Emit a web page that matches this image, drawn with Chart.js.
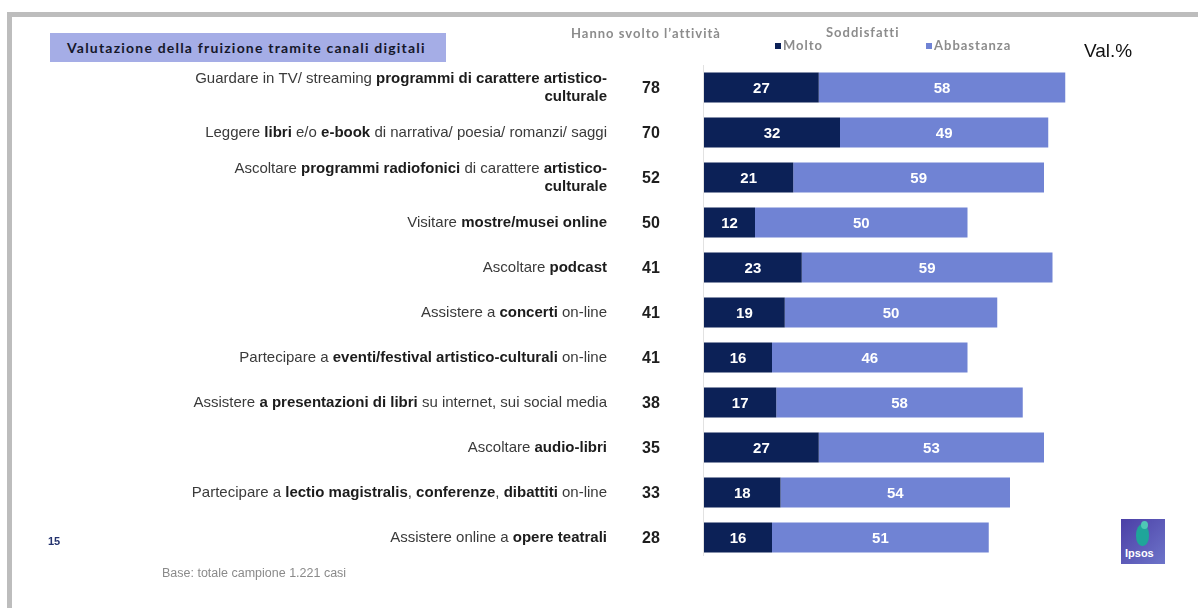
<!DOCTYPE html>
<html lang="it">
<head>
<meta charset="utf-8">
<title>Valutazione della fruizione tramite canali digitali</title>
<script src="https://cdn.jsdelivr.net/npm/chart.js@4.4.1/dist/chart.umd.min.js"></script>
<style>
  html, body { margin: 0; padding: 0; background: #fff; }
  body { width: 1198px; height: 608px; position: relative; overflow: hidden; font-family: "Liberation Sans", Arial, sans-serif; }
  .frame { position: absolute; left: 7px; top: 12px; width: 1300px; height: 700px; border-top: 5px solid #bdbdbd; border-left: 5px solid #bdbdbd; }
  #chart { position: absolute; left: 0; top: 0; }
  .titlebox { position: absolute; left: 50px; top: 33px; width: 396px; height: 29px; background: #a5ade6; }
  .titlebox span { position: absolute; left: 17px; top: 6px; font: bold 14px Lato, "Open Sans", sans-serif; letter-spacing: 1.2px; color: #15172a; white-space: nowrap; }
  .hdr { position: absolute; font: bold 13px Lato, "Open Sans", sans-serif; color: #8c8c8c; white-space: nowrap; letter-spacing: 1px; }
  .sq { display: inline-block; width: 6px; height: 6px; margin-right: 2px; vertical-align: 1px; }
  .val { position: absolute; left: 1084px; top: 40px; font: 19px "Liberation Sans", Arial, sans-serif; color: #111; }
  .page { position: absolute; left: 48px; top: 535px; font: bold 11px "Liberation Sans", Arial, sans-serif; color: #24336e; }
  .base { position: absolute; left: 162px; top: 566px; font: 12.5px "Liberation Sans", Arial, sans-serif; color: #8a8a8a; }
  .logo { position: absolute; left: 1121px; top: 519px; width: 44px; height: 45px; background: linear-gradient(135deg, #4b3fa6, #6d74c9); overflow: hidden; }
  .logo .fig { position: absolute; left: 15px; top: 5px; width: 13px; height: 22px; border-radius: 50% 50% 45% 45%; background: #1fa59a; }
  .logo .fig2 { position: absolute; left: 20px; top: 2px; width: 7px; height: 8px; border-radius: 50%; background: #4fc7b5; }
  .logo span { position: absolute; left: 4px; top: 28px; font: bold 11px "Liberation Sans", Arial, sans-serif; color: #fff; }
</style>
</head>
<body>
<div class="frame"></div>
<canvas id="chart" width="1198" height="608"></canvas>

<div class="titlebox"><span>Valutazione della fruizione tramite canali digitali</span></div>
<div class="hdr" style="left:571px; top:25px;">Hanno svolto l’attività</div>
<div class="hdr" style="left:826px; top:24px;">Soddisfatti</div>
<div class="hdr" style="left:775px; top:37px;"><span class="sq" style="background:#0c2157"></span>Molto</div>
<div class="hdr" style="left:926px; top:37px;"><span class="sq" style="background:#7083d4"></span>Abbastanza</div>
<div class="val">Val.%</div>
<div class="page">15</div>
<div class="base">Base: totale campione 1.221 casi</div>
<div class="logo"><div class="fig"></div><div class="fig2"></div><span>Ipsos</span></div>

<script>
// Attività (i tratti tra ** vanno in grassetto, \n va a capo)
const attivita = [
  'Guardare in TV/ streaming **programmi di carattere artistico-**\n**culturale**',
  'Leggere **libri** e/o **e-book** di narrativa/ poesia/ romanzi/ saggi',
  'Ascoltare **programmi radiofonici** di carattere **artistico-**\n**culturale**',
  'Visitare **mostre/musei online**',
  'Ascoltare **podcast**',
  'Assistere a **concerti** on-line',
  'Partecipare a **eventi/festival artistico-culturali** on-line',
  'Assistere **a presentazioni di libri** su internet, sui social media',
  'Ascoltare **audio-libri**',
  'Partecipare a **lectio magistralis**, **conferenze**, **dibattiti** on-line',
  'Assistere online a **opere teatrali**'
];

// Hanno svolto l'attività (%)
const svolto = [78, 70, 52, 50, 41, 41, 41, 38, 35, 33, 28];

// Soddisfatti (%)
const molto = [27, 32, 21, 12, 23, 19, 16, 17, 27, 18, 16];
const abbastanza = [58, 49, 59, 50, 59, 50, 46, 58, 53, 54, 51];

const BLU_SCURO = '#0c2157';
const BLU_CHIARO = '#7083d4';

// spezza una riga in pezzi normali / grassetto
function parseRuns(line) {
  return line.split('**').map((t, i) => ({ text: t, bold: i % 2 === 1 })).filter(r => r.text.length);
}

const fontNormal = '15px "Liberation Sans", Arial, sans-serif';
const fontBold = 'bold 15px "Liberation Sans", Arial, sans-serif';

const etichettePlugin = {
  id: 'etichette',
  afterDatasetsDraw(chart) {
    const ctx = chart.ctx;
    const area = chart.chartArea;
    const yScale = chart.scales.y;

    // asse verticale sottile
    ctx.save();
    ctx.strokeStyle = '#e2e2e2';
    ctx.lineWidth = 1;
    ctx.beginPath();
    ctx.moveTo(area.left - 0.5, area.top);
    ctx.lineTo(area.left - 0.5, area.bottom - 4);
    ctx.stroke();

    // valori dentro le barre
    ctx.fillStyle = '#fff';
    ctx.font = 'bold 15px "Liberation Sans Narrow", "Arial Narrow", "Liberation Sans", Arial, sans-serif';
    ctx.textAlign = 'center';
    ctx.textBaseline = 'middle';
    chart.data.datasets.forEach((ds, di) => {
      chart.getDatasetMeta(di).data.forEach((bar, i) => {
        ctx.fillText(String(ds.data[i]), (bar.x + bar.base) / 2, bar.y + 1);
      });
    });

    attivita.forEach((lbl, i) => {
      const cy = yScale.getPixelForValue(i);

      // totale "hanno svolto"
      ctx.fillStyle = '#1e1e1e';
      ctx.font = 'bold 16px "Liberation Sans Narrow", "Arial Narrow", "Liberation Sans", Arial, sans-serif';
      ctx.textAlign = 'center';
      ctx.fillText(String(svolto[i]), 651, cy + 1);

      // etichetta con tratti in grassetto, allineata a destra
      const lines = lbl.split('\n');
      const step = 18;
      lines.forEach((line, li) => {
        const ly = cy + (li - (lines.length - 1) / 2) * step;
        const runs = parseRuns(line);
        let x = 607;
        ctx.textAlign = 'right';
        for (let r = runs.length - 1; r >= 0; r--) {
          ctx.font = runs[r].bold ? fontBold : fontNormal;
          ctx.fillStyle = runs[r].bold ? '#1c1c1c' : '#3a3a3a';
          ctx.fillText(runs[r].text, x, ly);
          x -= ctx.measureText(runs[r].text).width;
        }
      });
    });
    ctx.restore();
  }
};

new Chart(document.getElementById('chart'), {
  type: 'bar',
  data: {
    labels: attivita,
    datasets: [
      { label: 'Molto', data: molto, backgroundColor: BLU_SCURO, borderWidth: 0 },
      { label: 'Abbastanza', data: abbastanza, backgroundColor: BLU_CHIARO, borderWidth: 0 }
    ]
  },
  options: {
    indexAxis: 'y',
    responsive: false,
    animation: false,
    devicePixelRatio: 1,
    layout: { padding: { left: 704, right: 69, top: 65, bottom: 48 } },
    datasets: { bar: { barPercentage: 0.67, categoryPercentage: 1 } },
    plugins: {
      legend: { display: false },
      tooltip: { enabled: false }
    },
    scales: {
      x: { stacked: true, display: false, min: 0, max: 100 },
      y: { stacked: true, display: false }
    }
  },
  plugins: [etichettePlugin]
});
</script>
</body>
</html>
